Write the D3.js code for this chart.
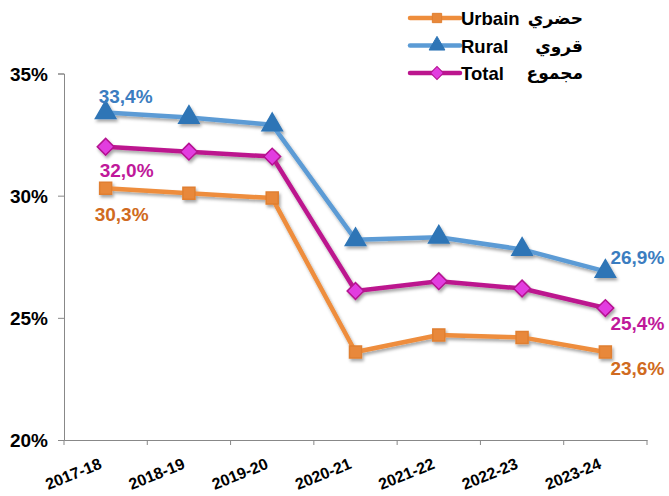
<!DOCTYPE html>
<html>
<head>
<meta charset="utf-8">
<script src="https://cdn.jsdelivr.net/npm/d3@7"></script>
<style>
  body { margin: 0; background: #fff; }
  text { font-family: "Liberation Sans", Arial, sans-serif; font-weight: bold; }
</style>
</head>
<body>
<div id="chart"></div>
<script>
// data
const years = ["2017-18","2018-19","2019-20","2020-21","2021-22","2022-23","2023-24"]
const urbain = [30.3, 30.1, 29.9, 23.6, 24.3, 24.2, 23.6]
const rural  = [33.4, 33.2, 32.9, 28.2, 28.3, 27.8, 26.9]
const total  = [32.0, 31.8, 31.6, 26.1, 26.5, 26.2, 25.4]
const yTicks = [20, 25, 30, 35]

const seriesNames = ["Urbain","Rural","Total"]
const seriesArabic = ["حضري","قروي","مجموع"]

// ----- dimensions
const dims = { width: 669, height: 496,
  margin: { top: 73.5, right: 22, bottom: 56, left: 64 } }
dims.boundedWidth = dims.width - dims.margin.left - dims.margin.right
dims.boundedHeight = dims.height - dims.margin.top - dims.margin.bottom

const svg = d3.select("#chart").append("svg")
    .attr("width", dims.width)
    .attr("height", dims.height)

const defs = svg.append("defs")
const shadow = defs.append("filter").attr("id","shadow")
    .attr("x","-20%").attr("y","-20%").attr("width","140%").attr("height","160%")
shadow.append("feDropShadow")
    .attr("dx",1.5).attr("dy",2.5).attr("stdDeviation",1.6)
    .attr("flood-color","#000").attr("flood-opacity",0.35)

const bounds = svg.append("g")
    .attr("transform", `translate(${dims.margin.left},${dims.margin.top})`)

// ----- scales
const xScale = d3.scaleBand()
    .domain(years)
    .range([0, dims.boundedWidth])

const yScale = d3.scaleLinear()
    .domain([20, 35])
    .range([dims.boundedHeight, 0])

const xPos = d => xScale(d) + xScale.bandwidth() / 2

// ----- axes
const yAxis = bounds.append("g")
    .call(d3.axisLeft(yScale).tickValues(yTicks).tickFormat(d => d + "%").tickSize(6).tickPadding(10))
yAxis.select(".domain").attr("stroke","#888")
yAxis.selectAll(".tick line").attr("stroke","#888")
yAxis.selectAll(".tick text").attr("font-size",19).attr("fill","#000")
    .attr("font-family","Liberation Sans, Arial, sans-serif").attr("font-weight","bold")
    .attr("dy","0.36em")

const xAxis = bounds.append("g")
    .attr("transform", `translate(0,${dims.boundedHeight})`)
    .call(d3.axisBottom(xScale).tickSizeOuter(0).tickSize(0))
xAxis.select(".domain").attr("stroke","#888")
xAxis.selectAll(".tick line").remove()
// band-edge ticks
xAxis.selectAll(".edge").data(d3.range(years.length + 1)).join("line")
    .attr("x1", i => i * xScale.step()).attr("x2", i => i * xScale.step())
    .attr("y1", 0).attr("y2", 5).attr("stroke","#888")
xAxis.selectAll(".tick text")
    .attr("font-size",16).attr("fill","#000")
    .attr("font-family","Liberation Sans, Arial, sans-serif").attr("font-weight","bold")
    .attr("text-anchor","end")
    .attr("y", 0).attr("dy", 0)
    .attr("transform","translate(-3,28) rotate(-22)")

// ----- series
const series = [
  { name: "Urbain", values: urbain, line: "#EE8D3C", mark: "#E8883A", markStroke: "#E07F30", label: "#D06A20", shape: d3.symbolSquare, size: 144, rot: 0 },
  { name: "Rural",  values: rural,  line: "#5B9BD5", mark: "#2E75B6", markStroke: "#2E75B6", label: "#3B7DC0", shape: d3.symbolTriangle, size: 180, rot: 0 },
  { name: "Total",  values: total,  line: "#BC168E", mark: "#E23EE0", markStroke: "#B41290", label: "#C0189A", shape: d3.symbolSquare, size: 140, rot: 45 }
]

const lineGen = d3.line()
    .x((d, i) => xPos(years[i]))
    .y(d => yScale(d))

const seriesGroup = bounds.append("g").attr("filter","url(#shadow)")
series.forEach(s => {
  seriesGroup.append("path")
      .attr("d", lineGen(s.values))
      .attr("fill","none")
      .attr("stroke", s.line)
      .attr("stroke-width", 4.5)
      .attr("stroke-linejoin","round")
})
series.forEach(s => {
  seriesGroup.selectAll(null).data(s.values).join("path")
      .attr("transform", (d, i) => `translate(${xPos(years[i])},${yScale(d)}) rotate(${s.rot})`)
      .attr("d", d3.symbol(s.shape, s.size))
      .attr("fill", s.mark)
      .attr("stroke", s.markStroke)
      .attr("stroke-width", 1.5)
})

// ----- value labels (first and last)
const labelOffsets = {
  Urbain: [[16, 33], [32, 23]],
  Rural:  [[20, -10], [32, -7]],
  Total:  [[21, 30], [32, 22]]
}
series.forEach(s => {
  const last = s.values.length - 1
  ;[0, last].forEach((idx, k) => {
    const off = labelOffsets[s.name][k]
    bounds.append("text")
        .attr("x", xPos(years[idx]) + off[0])
        .attr("y", yScale(s.values[idx]) + off[1])
        .attr("text-anchor","middle")
        .attr("font-size",19)
        .attr("fill", s.label)
        .text(d3.format(".1f")(s.values[idx]).replace(".", ",") + "%")
  })
})

// ----- legend
const legend = svg.append("g").attr("transform","translate(410,18)")
series.forEach((s, i) => {
  const row = legend.append("g").attr("transform", `translate(0,${i * 27.5})`)
  row.append("line")
      .attr("x1",0).attr("x2",50).attr("y1",0).attr("y2",0)
      .attr("stroke", s.line).attr("stroke-width",4.5).attr("stroke-linecap","round")
  row.append("path")
      .attr("transform",`translate(27,0) rotate(${s.rot})`)
      .attr("d", d3.symbol(s.shape, s.size * 0.6))
      .attr("fill", s.mark).attr("stroke", s.markStroke).attr("stroke-width",1)
  row.append("text")
      .attr("x",51).attr("y",7)
      .attr("font-size",18.5).attr("fill","#000")
      .text(seriesNames[i])
  row.append("text")
      .attr("x",173).attr("y",6)
      .attr("text-anchor","end")
      .attr("font-size",17).attr("fill","#000")
      .style("font-family","'DejaVu Sans', sans-serif")
      .text(seriesArabic[i])
})
</script>
</body>
</html>
